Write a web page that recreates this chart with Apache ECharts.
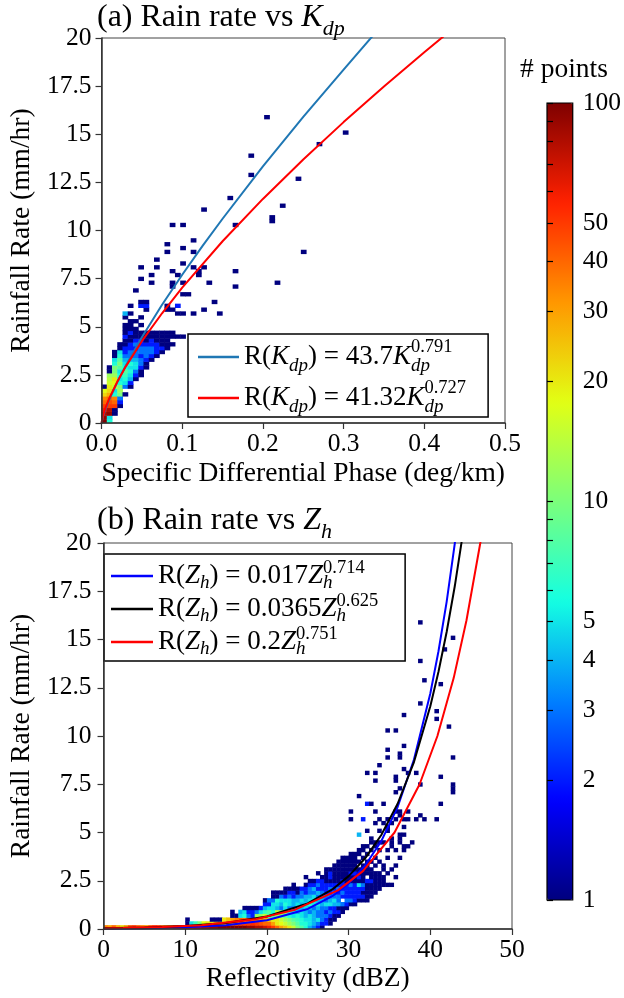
<!DOCTYPE html>
<html><head><meta charset="utf-8">
<script src="https://cdn.jsdelivr.net/npm/echarts@6/dist/echarts.min.js"></script>
<style>html,body{margin:0;padding:0;background:#fff}#c{width:624px;height:998px}</style>
</head><body><div id="c"></div>
<script>
// ---------------- DATA ----------------
// Panel (a): 2-D histogram of Kdp (deg/km) vs rain rate (mm/hr)
const aBinW = 0.0065, aBinH = 0.2;
const aColStart = [0, 0, 2, 4, 7, 9, 11, 12, 14, 16, 17, 18, 19, 20];
const aColCounts = [
  [100, 90, 80, 60, 50, 40, 35, 22, 18, 1],
  [6, 5, 90, 80, 50, 45, 40, 28, 22, 20, 16, 14, 12, 1, 1],
  [1, 1, 50, 40, 35, 6, 5, 15, 18, 20, 12, 10, 10, 6, 5, 1, 1],
  [1, 2, 3, 10, 12, 10, 6, 5, 6, 5, 8, 10, 8, 6, 5, 1, 1],
  [1, 0, 3, 5, 6, 7, 8, 6, 5, 4, 3, 2, 2, 1, 1, 2, 1, 1, 1, 0, 1, 4],
  [1, 2, 4, 5, 6, 5, 6, 4, 3, 3, 2, 2, 1, 1, 2, 1, 1, 1, 0, 1, 0, 1],
  [1, 2, 3, 5, 5, 4, 3, 3, 2, 3, 2, 1, 1, 1, 0, 1],
  [1, 1, 2, 3, 3, 2, 3, 3, 2, 2, 1, 1, 0, 1, 0, 1, 0, 0, 2, 1],
  [1, 1, 2, 3, 3, 3, 2, 1, 1, 1, 0, 0, 0, 0, 0, 1, 2, 1],
  [1, 2, 3, 3, 2, 2, 1, 1],
  [1, 2, 2, 2, 1, 1, 1],
  [1, 2, 1, 1, 1, 1],
  [1, 1, 1, 1, 1],
  [1, 0, 1, 1]
];
const aOutCol = [31, 28, 28, 41, 37, 24, 19, 34, 32, 32, 13, 15, 25, 17, 12, 15, 12, 17, 38, 10, 15, 10, 17, 19, 13, 18, 18, 25, 14, 15, 20, 33, 13, 25, 15, 16, 21, 14, 12, 13, 19, 14, 15, 17, 22, 46, 7, 6, 9, 13, 12, 15, 14, 7, 9];
const aOutRow = [79, 69, 64, 72, 63, 58, 55, 56, 53, 52, 51, 51, 51, 47, 46, 45, 44, 44, 44, 42, 41, 40, 40, 40, 39, 39, 38, 39, 38, 36, 36, 36, 35, 35, 33, 33, 31, 30, 30, 29, 29, 28, 28, 28, 28, 75, 40, 34, 38, 36, 29, 22, 22, 37, 36];
const aOutCnt = [1, 1, 1, 1, 1, 1, 1, 1, 1, 1, 1, 1, 1, 1, 1, 1, 1, 1, 1, 1, 1, 1, 1, 1, 1, 1, 1, 1, 1, 1, 1, 1, 1, 1, 1, 1, 1, 2, 1, 1, 1, 1, 1, 1, 1, 1, 1, 1, 1, 1, 1, 1, 1, 1, 1];

// Panel (a) fitted curves
const aBlueK = [0, 0.002, 0.005, 0.01, 0.02, 0.03, 0.05, 0.075, 0.1, 0.125, 0.15, 0.2, 0.25, 0.3, 0.34];
const aBlueR = [0, 0.35, 0.72, 1.25, 2.16, 2.97, 4.45, 6.14, 7.70, 9.19, 10.61, 13.33, 15.9, 18.36, 20.3];
const aRedK = [0, 0.002, 0.005, 0.01, 0.02, 0.03, 0.05, 0.075, 0.1, 0.15, 0.2, 0.25, 0.3, 0.35, 0.4, 0.43];
const aRedR = [0, 0.41, 0.80, 1.32, 2.18, 2.93, 4.25, 5.70, 7.03, 9.44, 11.64, 13.69, 15.63, 17.48, 19.26, 20.3];

// Panel (b): 2-D histogram of reflectivity (dBZ) vs rain rate (mm/hr)
const bBinW = 0.5, bBinH = 0.2;
const bColCounts = [
  [35], [30], [40], [28], [22], [30], [45], [50], [40], [35],
  [30], [45], [55], [50], [40], [35], [30], [40], [50], [55],
  [60, 1, 1], [60, 5], [70, 7], [70, 10], [80, 18], [80, 20], [90, 22, 1], [90, 25, 1], [100, 25, 1], [100, 30, 20],
  [100, 35, 25], [100, 40, 30, 1, 1], [100, 45, 35, 1], [100, 50, 40, 5, 4], [100, 50, 40, 6, 5, 1], [90, 50, 45, 3, 2, 1],
  [90, 55, 40, 2, 2, 1], [80, 50, 40, 12, 3, 1], [80, 45, 35, 12, 5, 2], [70, 40, 30, 15, 7, 4, 2, 1],
  [60, 40, 25, 8, 8, 5, 2, 3], [50, 30, 20, 8, 6, 5, 5, 3, 1, 1], [40, 20, 20, 12, 15, 4, 5, 6, 1, 1],
  [30, 18, 15, 10, 12, 3, 4, 5, 3, 1], [25, 15, 12, 8, 10, 5, 6, 5, 2, 1, 1], [20, 12, 10, 6, 6, 3, 5, 5, 3, 2, 1],
  [15, 10, 8, 5, 5, 3, 4, 4, 2, 2, 1, 1], [10, 8, 7, 6, 4, 4, 5, 4, 3, 1, 1], [8, 6, 6, 5, 5, 4, 4, 5, 3, 3, 2],
  [6, 6, 5, 4, 4, 5, 5, 4, 4, 2, 2, 1, 0, 1], [4, 5, 5, 5, 3, 4, 6, 5, 4, 3, 3, 2, 1], [3, 4, 4, 4, 4, 3, 5, 5, 5, 3, 4, 2, 1],
  [2, 3, 5, 3, 3, 4, 5, 4, 3, 4, 2, 3, 2, 0, 1], [1, 2, 3, 3, 3, 3, 4, 4, 3, 3, 2, 2, 2, 1],
  [0, 2, 2, 3, 2, 3, 5, 3, 3, 2, 2, 2, 1, 1, 1, 1], [0, 1, 1, 2, 3, 2, 5, 4, 3, 2, 3, 2, 1, 2, 2, 1],
  [0, 0, 1, 1, 2, 2, 4, 5, 3, 3, 2, 2, 1, 1, 1, 1, 1], [0, 0, 0, 1, 2, 1, 4, 3, 3, 2, 3, 2, 1, 1, 1, 1, 1, 1],
  [0, 0, 0, 0, 1, 1, 3, 0, 2, 3, 2, 2, 2, 1, 1, 1, 1, 1, 1], [0, 0, 0, 0, 0, 1, 2, 3, 2, 2, 2, 2, 1, 1, 1, 1, 1, 1, 1],
  [0, 0, 0, 0, 0, 0, 1, 3, 2, 2, 2, 3, 1, 1, 2, 1, 1, 1, 1, 1], [0, 0, 0, 0, 0, 0, 1, 2, 2, 2, 2, 2, 1, 1, 2, 1, 1, 1, 1, 1],
  [0, 0, 0, 0, 0, 0, 0, 1, 2, 2, 2, 5, 1, 2, 1, 1, 0, 1, 0, 1, 1, 0, 0, 0, 4],
  [0, 0, 0, 0, 0, 0, 0, 1, 2, 1, 2, 3, 1, 1, 1, 1, 1, 0, 1, 0, 1, 1],
  [0, 0, 0, 0, 0, 0, 0, 1, 1, 1, 1, 1, 2, 0, 1, 1, 1, 1, 0, 1, 0, 1, 0, 0, 0, 1],
  [0, 0, 0, 0, 0, 0, 0, 0, 1, 1, 1, 1, 2, 1, 1, 1, 0, 1, 0, 0, 1, 0, 1, 1],
  [0, 0, 0, 0, 0, 0, 0, 0, 0, 1, 1, 1, 1, 1, 1, 0, 1, 0, 1, 0, 0, 1, 1, 0, 0, 0, 0, 1],
  [0, 0, 0, 0, 0, 0, 0, 0, 0, 0, 1, 1, 1, 1, 1, 0, 0, 1, 0, 0, 1, 0, 1, 0, 0, 1],
  [0, 0, 0, 0, 0, 0, 0, 0, 0, 0, 0, 1, 1, 1, 0, 1, 1, 0, 0, 0, 0, 0, 1, 0, 0, 0, 0, 1],
  [0, 0, 0, 0, 0, 0, 0, 0, 0, 0, 0, 1, 0, 0, 1, 0, 0, 0, 1, 0, 1, 0, 0, 0, 0, 1, 1],
  [0, 0, 0, 0, 0, 0, 0, 0, 0, 0, 0, 1, 0, 0, 0, 1, 0, 0, 0, 0, 0, 1, 1, 1, 0, 0, 0, 1],
  [0, 0, 0, 0, 0, 0, 0, 0, 0, 0, 0, 0, 0, 1, 0, 0, 1, 0, 0, 0, 1, 0, 0, 0, 0, 0, 0, 0, 1],
  [0, 0, 0, 0, 0, 0, 0, 0, 0, 0, 0, 0, 0, 0, 0, 0, 0, 0, 1, 0, 0, 0, 1, 1, 1, 0, 0, 0, 0, 1],
  [0, 0, 0, 0, 0, 0, 0, 0, 0, 0, 0, 0, 0, 0, 0, 0, 0, 0, 0, 0, 1, 1, 0, 0, 1, 0, 1]
];
const bOutCol = [77, 85, 83, 77, 78, 82, 77, 81, 73, 81, 84, 69, 71, 73, 69, 72, 69, 72, 85, 67, 73, 64, 66, 74, 76, 71, 71, 66, 77, 82, 85, 85, 85, 72, 71, 62, 82, 64, 68, 65, 66, 60, 71, 72, 74, 63, 67, 69, 73, 74, 76, 77, 78, 81, 60, 75, 74];
const bOutRow = [79, 75, 72, 69, 64, 63, 58, 56, 55, 54, 52, 51, 51, 47, 46, 45, 44, 44, 44, 42, 41, 40, 40, 40, 40, 39, 38, 38, 37, 39, 37, 36, 35, 36, 35, 34, 32, 32, 32, 32, 30, 30, 30, 30, 30, 28, 28, 28, 28, 28, 28, 29, 28, 28, 28, 22, 21];
const bOutCnt = [1, 1, 1, 1, 1, 1, 1, 1, 1, 1, 1, 1, 1, 1, 1, 1, 1, 1, 1, 1, 1, 1, 1, 1, 1, 1, 1, 1, 1, 1, 1, 1, 1, 1, 1, 1, 1, 2, 1, 1, 1, 1, 1, 1, 1, 2, 1, 1, 1, 1, 1, 1, 1, 1, 1, 1, 1];

// Panel (b) fitted curves
const bDbz = [0, 5, 10, 15, 20, 25, 28, 30, 32, 34, 36, 38, 40, 41, 42, 43, 44];
const bBlueR = [0.017, 0.039, 0.088, 0.20, 0.455, 1.04, 1.70, 2.36, 3.28, 4.55, 6.32, 8.78, 12.2, 14.39, 16.95, 19.98, 23.56];
const bBlackR = [0.037, 0.075, 0.154, 0.316, 0.649, 1.33, 2.05, 2.74, 3.65, 4.87, 6.49, 8.65, 11.54, 13.33, 15.39, 17.77, 20.52];
const bRedDbz = [0, 2.4, 7.2, 12.0, 18.5, 23.45, 28.68, 31.75, 35.62, 38.69, 40.87, 42.86, 44.43, 46.12, 46.84];
const bRedR = [0.03, 0.05, 0.1, 0.2, 0.5, 1, 2, 3, 5, 7.5, 10, 13, 16, 20, 22];

// Colour bar ticks (# points, log scale)
const cbLabelVals = [1, 2, 3, 4, 5, 10, 20, 30, 40, 50, 100];
const cbTickVals = [1, 2, 3, 4, 5, 6, 7, 8, 9, 10, 20, 30, 40, 50, 60, 70, 80, 90, 100];

const aNames = ['R(Kdp) = 43.7Kdp^0.791', 'R(Kdp) = 41.32Kdp^0.727'];
const bNames = ['R(Zh) = 0.017Zh^0.714', 'R(Zh) = 0.0365Zh^0.625', 'R(Zh) = 0.2Zh^0.751'];

// ---------------- BUILD ----------------
const SERIF = '"Liberation Serif", "Times New Roman", serif';
const JET = ['#00007f', '#0000ff', '#0080ff', '#14ffe2', '#7bff7b', '#e2ff14', '#ff9700', '#ff2100', '#7f0000'];

function buildCells(colStart, colCounts, outCol, outRow, outCnt, bw, bh) {
  const cells = [];
  colCounts.forEach(function (arr, c) {
    const s = colStart ? colStart[c] : 0;
    arr.forEach(function (n, i) {
      if (n > 0) cells.push([c * bw, (s + i) * bh, Math.log10(n), n]);
    });
  });
  outCol.forEach(function (c, i) {
    cells.push([c * bw, outRow[i] * bh, Math.log10(outCnt[i]), outCnt[i]]);
  });
  return cells;
}
const aCells = buildCells(aColStart, aColCounts, aOutCol, aOutRow, aOutCnt, aBinW, aBinH);
const bCells = buildCells(null, bColCounts, bOutCol, bOutRow, bOutCnt, bBinW, bBinH);

function cellRenderer(bw, bh) {
  return function (params, api) {
    const x = api.value(0), y = api.value(1);
    const p0 = api.coord([x, y]);
    const p1 = api.coord([x + bw, y + bh]);
    return {
      type: 'rect',
      shape: { x: p0[0], y: p1[1], width: p1[0] - p0[0] + 0.5, height: p0[1] - p1[1] + 0.5 },
      style: { fill: api.visual('color') }
    };
  };
}
function pairs(xs, ys) { return xs.map(function (x, i) { return [x, ys[i]]; }); }

const tickFont = { fontFamily: SERIF, fontSize: 25.5, color: '#000' };
const nameFont = { fontFamily: SERIF, fontSize: 27.5, color: '#000' };

function valueXAxis(grid, max, interval, name, nameGap, fmt) {
  return {
    type: 'value', gridIndex: grid, min: 0, max: max, interval: interval, z: 5,
    name: name, nameLocation: 'middle', nameGap: nameGap, nameTextStyle: nameFont,
    axisLine: { show: true, onZero: false, lineStyle: { color: '#333', width: 1.5 } },
    axisTick: { show: true, length: 6, lineStyle: { color: '#333', width: 1.2 } },
    axisLabel: Object.assign({ margin: 8, formatter: fmt }, tickFont),
    splitLine: { show: false }
  };
}
function valueYAxis(grid, name, nameGap, margin) {
  return {
    type: 'value', gridIndex: grid, min: 0, max: 20, interval: 2.5, z: 5,
    name: name, nameLocation: 'middle', nameGap: nameGap, nameTextStyle: nameFont,
    axisLine: { show: true, onZero: false, lineStyle: { color: '#333', width: 1.5 } },
    axisTick: { show: true, length: 6, lineStyle: { color: '#333', width: 1.2 } },
    axisLabel: Object.assign({ margin: margin }, tickFont),
    splitLine: { show: false }
  };
}

const titleRich = {
  k: { fontFamily: SERIF, fontSize: 32, fontStyle: 'italic', lineHeight: 42 },
  s: { fontFamily: SERIF, fontSize: 22, fontStyle: 'italic', verticalAlign: 'bottom', height: 20 }
};
function legRich(lh) {
  return {
    t: { fontFamily: SERIF, fontSize: 27, color: '#000', lineHeight: lh },
    k: { fontFamily: SERIF, fontSize: 27, fontStyle: 'italic', color: '#000', lineHeight: lh },
    sb: { fontFamily: SERIF, fontSize: 19, fontStyle: 'italic', color: '#000', verticalAlign: 'bottom', height: 17 },
    sbz: { fontFamily: SERIF, fontSize: 19, fontStyle: 'italic', color: '#000', verticalAlign: 'bottom', height: 17, width: 0 },
    sp: { fontFamily: SERIF, fontSize: 18.5, color: '#000', verticalAlign: 'top', height: 15 }
  };
}
function legendFmt(name) {
  const m = name.match(/^R\((K|Z)(dp|h)\) = ([0-9.]+)(?:K|Z)(?:dp|h)\^([0-9.]+)$/);
  if (!m) return name;
  return '{t|R(}{k|' + m[1] + '}{sb|' + m[2] + '}{t|) = ' + m[3] + '}{k|' + m[1] + '}{sbz|' + m[2] + '}{sp|' + m[4] + '}';
}

function lineSeries(name, xi, yi, data, color) {
  return {
    type: 'line', name: name, xAxisIndex: xi, yAxisIndex: yi, data: data,
    symbol: 'none', showSymbol: false, clip: true, z: 4,
    lineStyle: { color: color, width: 2 }, itemStyle: { color: color }
  };
}

const option = {
  animation: false,
  backgroundColor: '#fff',
  title: [
    { text: '(a) Rain rate vs {k|K}{s|dp}', left: 97, top: -3, padding: 0,
      textStyle: { fontFamily: SERIF, fontSize: 32, fontWeight: 'normal', color: '#000', lineHeight: 42, rich: titleRich } },
    { text: '(b) Rain rate vs {k|Z}{s|h}', left: 97, top: 500, padding: 0,
      textStyle: { fontFamily: SERIF, fontSize: 32, fontWeight: 'normal', color: '#000', lineHeight: 42, rich: titleRich } },
    { text: '# points', left: 520, top: 56, padding: 0,
      textStyle: { fontFamily: SERIF, fontSize: 27.5, fontWeight: 'normal', color: '#000' } }
  ],
  grid: [
    { left: 93, top: 38, width: 412, height: 385, show: true, borderColor: '#444', borderWidth: 1 },
    { left: 96, top: 543, width: 416, height: 386, show: true, borderColor: '#444', borderWidth: 1 },
    { left: 547, top: 103, width: 26, height: 797, show: true, borderColor: '#000', borderWidth: 1.2, z: 10 }
  ],
  xAxis: [
    valueXAxis(0, 0.5, 0.1, 'Specific Differential Phase (deg/km)', 37, function (v) { return v.toFixed(1); }),
    valueXAxis(1, 50, 10, 'Reflectivity (dBZ)', 36, null),
    { type: 'value', gridIndex: 2, min: 0, max: 1, show: false }
  ],
  yAxis: [
    valueYAxis(0, 'Rainfall Rate (mm/hr)', 64, 10),
    valueYAxis(1, 'Rainfall Rate (mm/hr)', 65, 12),
    { type: 'value', gridIndex: 2, min: 0, max: 2, position: 'right', z: 11,
      axisLine: { show: false },
      axisTick: { show: true, length: 6, customValues: cbTickVals.map(function (v) { return Math.log10(v); }),
        lineStyle: { color: '#000', width: 1.2 } },
      axisLabel: Object.assign({ margin: 10, customValues: cbLabelVals.map(function (v) { return Math.log10(v); }),
        formatter: function (v) { return String(Math.round(Math.pow(10, v))); } }, tickFont),
      splitLine: { show: false } }
  ],
  visualMap: {
    type: 'continuous', min: 0, max: 2, dimension: 2, seriesIndex: [0, 3],
    inRange: { color: JET }, calculable: false, hoverLink: false, realtime: false,
    orient: 'vertical', left: 547, top: 103, itemWidth: 26, itemHeight: 797, padding: 0,
    text: null, showLabel: false, textStyle: { fontSize: 0 }
  },
  legend: [
    { data: aNames, orient: 'vertical', left: 188, top: 334, padding: [4, 22, 1, 10], itemGap: 4,
      icon: 'rect', itemWidth: 41, itemHeight: 2.5, borderColor: '#000', borderWidth: 1.5, borderRadius: 0,
      backgroundColor: '#fff', formatter: legendFmt, selectedMode: false,
      textStyle: { fontFamily: SERIF, fontSize: 27, color: '#000', rich: legRich(34) } },
    { data: bNames, orient: 'vertical', left: 104, top: 554, padding: [5, 27, 3, 7], itemGap: 0,
      icon: 'rect', itemWidth: 42, itemHeight: 2.5, borderColor: '#000', borderWidth: 1.5, borderRadius: 0,
      backgroundColor: '#fff', formatter: legendFmt, selectedMode: false,
      textStyle: { fontFamily: SERIF, fontSize: 27, color: '#000', rich: legRich(30) } }
  ],
  series: [
    { type: 'custom', name: 'cellsA', xAxisIndex: 0, yAxisIndex: 0, data: aCells, clip: true,
      encode: { x: 0, y: 1 }, renderItem: cellRenderer(aBinW, aBinH), z: 2 },
    lineSeries(aNames[0], 0, 0, pairs(aBlueK, aBlueR), '#1f77b4'),
    lineSeries(aNames[1], 0, 0, pairs(aRedK, aRedR), '#ff0000'),
    { type: 'custom', name: 'cellsB', xAxisIndex: 1, yAxisIndex: 1, data: bCells, clip: true,
      encode: { x: 0, y: 1 }, renderItem: cellRenderer(bBinW, bBinH), z: 2 },
    lineSeries(bNames[0], 1, 1, pairs(bDbz, bBlueR), '#0000ff'),
    lineSeries(bNames[1], 1, 1, pairs(bDbz, bBlackR), '#000000'),
    lineSeries(bNames[2], 1, 1, pairs(bRedDbz, bRedR), '#ff0000')
  ]
};

const chart = echarts.init(document.getElementById('c'), null, { renderer: 'canvas' });
chart.setOption(option);
</script></body></html>
